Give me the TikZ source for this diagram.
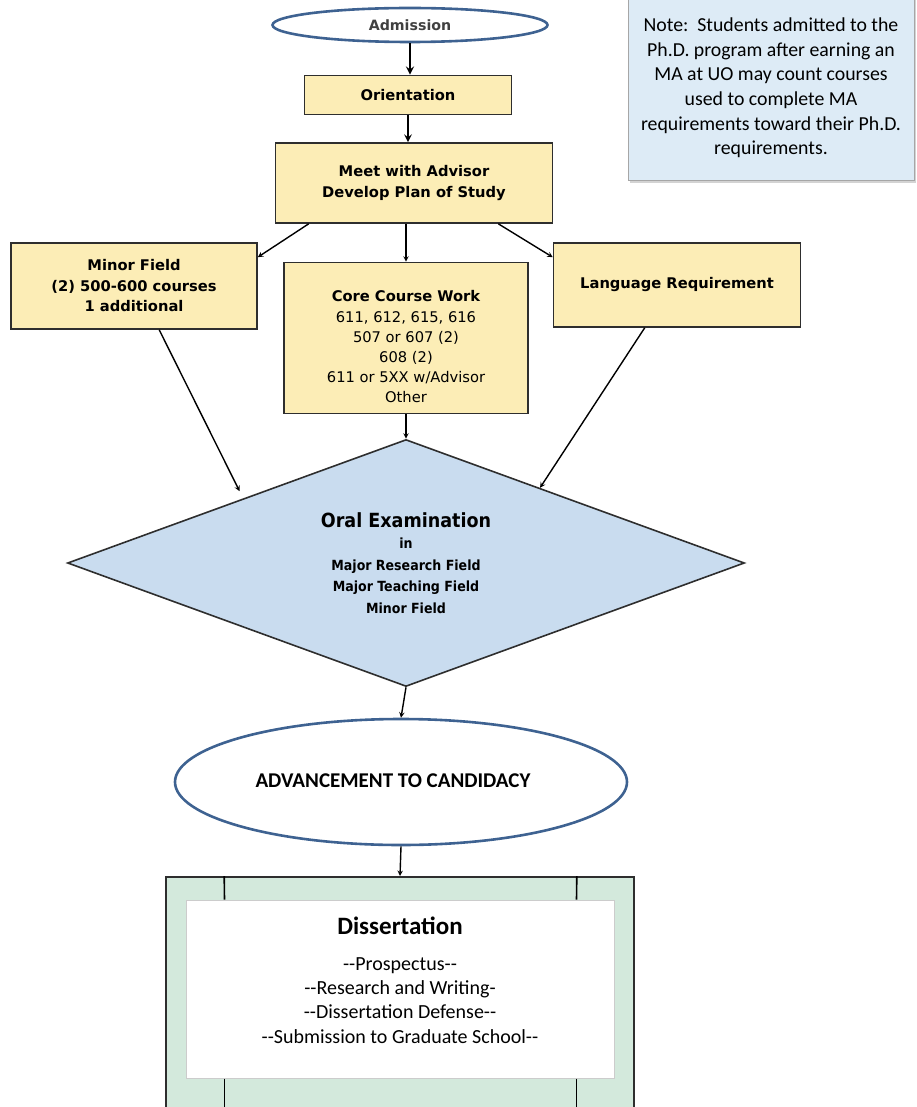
\documentclass[tikz,border=0pt]{standalone}
\usepackage{fontspec}
\setmainfont{DejaVu Sans}
\newfontfamily\narrowfont{DejaVu Sans Condensed}
\newfontfamily\calibrifont{Carlito}
\usepackage{tikz}
\usetikzlibrary{shapes.geometric,shadows,calc,positioning}

\definecolor{boxyellow}{HTML}{FCEDB6}
\definecolor{examblue}{HTML}{C9DCEF}
\definecolor{ovalblue}{HTML}{3E6291}
\definecolor{notefill}{HTML}{DDEBF6}
\definecolor{dissgreen}{HTML}{D3E9DC}
\definecolor{linegray}{HTML}{2E2E2E}

\begin{document}
\begin{tikzpicture}[x=1pt, y=-1pt, ->, >=stealth, line width=1.4pt]
		\tikzstyle{box}=[draw=linegray, fill=boxyellow, line width=1.6pt, align=center, inner sep=0pt, font=\fontsize{14.7}{20.5}\selectfont\bfseries]
		\tikzstyle{oval}=[ellipse, draw=ovalblue, line width=2.6pt, fill=white, inner sep=0pt]
		\useasboundingbox (0,0) rectangle (916,1107);
		
		\node [oval, minimum width=275pt, minimum height=34pt, text=black!75, font=\fontsize{14.2}{16}\selectfont\bfseries] (adm) at (410,25) {Admission};
		\node [box, minimum width=207pt, minimum height=39pt] (orient) at ($(adm)+(-2,70)$) {Orientation};
		\node [box, minimum width=277pt, minimum height=80pt] (meet) at ($(orient)+(6,88)$) {Meet with Advisor\\Develop Plan of Study};
		
		\node [box, minimum width=246pt, minimum height=86pt] (minor) at (134,286) {Minor Field\\(2) 500-600 courses\\1 additional};
		\node [box, minimum width=244pt, minimum height=151pt] (core) at (406,338) {};
		\node [align=center, font=\fontsize{14.7}{20.2}\selectfont] (coretext) at (406,347) {\bfseries Core Course Work\\611, 612, 615, 616\\507 or 607 (2)\\608 (2)\\611 or 5XX w/Advisor\\Other};
		\node [box, minimum width=247pt, minimum height=84pt] (lang) at (677,285) {Language Requirement};
		
		\node [diamond, aspect=2.74, draw=linegray, fill=examblue, line width=1.6pt, inner sep=0pt, minimum width=677pt, minimum height=247pt, align=center, font=\narrowfont\bfseries\fontsize{14}{21.5}\selectfont] (exam) at (406,563) {{\fontsize{19.5}{21}\selectfont Oral Examination}\\in\\Major Research Field\\Major Teaching Field\\Minor Field};
		
		\node [oval, minimum width=452pt, minimum height=126pt] (adv) at (401,782) {};
		\node [font=\calibrifont\bfseries\fontsize{21}{24}\selectfont] (advtext) at (393,781) {ADVANCEMENT TO CANDIDACY};
		
		\node [draw=linegray, fill=dissgreen, line width=1.6pt, minimum width=468pt, minimum height=250pt, anchor=north] (diss) at (400,876) {};
		\node [draw=black!20, fill=white, line width=1pt, minimum width=428pt, minimum height=178pt] (dissbox) at (400,989) {};
		\node [align=center, font=\calibrifont\fontsize{20}{24.2}\selectfont] (disstext) at (400,980) {{\bfseries\fontsize{25}{24}\selectfont Dissertation}\\[12pt]--Prospectus--\\--Research and Writing-\\--Dissertation Defense--\\--Submission to Graduate School--};
		
		\node [draw=black!35, fill=notefill, line width=1pt, drop shadow={opacity=0.35, shadow xshift=2pt, shadow yshift=-3pt}, minimum width=286pt, minimum height=185pt, align=center, font=\calibrifont\fontsize{19.8}{24.6}\selectfont] (note) at (771,88) {Note:\ \ Students admitted to the\\Ph.D. program after earning an\\MA at UO may count courses\\used to complete MA\\requirements toward their Ph.D.\\requirements.};
		
		\draw [-, line width=1.6pt] ($(diss.north west)+(59,0)$) -- ($(dissbox.north west)+(39,0)$);
		\draw [-, line width=1.6pt] ($(diss.north east)+(-58,0)$) -- ($(dissbox.north east)+(-38,0)$);
		\draw [-, line width=1.6pt] ($(dissbox.south west)+(39,0)$) -- ($(dissbox.south west)+(39,40)$);
		\draw [-, line width=1.6pt] ($(dissbox.south east)+(-38,0)$) -- ($(dissbox.south east)+(-38,40)$);
		
		\draw [->, line width=2.6pt] (adm.south) -- (adm.south |- orient.north); \draw [->, line width=2.4pt] (orient.south) -- (orient.south |- meet.north);
		\draw [->] ($(meet.south west)+(34,0)$) -- ($(minor.north east)+(0,15)$); \draw [->] (core.north |- meet.south) -- (core.north);
		\draw [->] ($(meet.south east)+(-55,0)$) -- ($(lang.north west)+(0,15)$);
		\draw [->, shorten >=8pt] ($(minor.south west)+(149,0)$) -- ($(exam.north)!0.48!(exam.west)$); \draw [->] (core.south) -- (exam.north);
		\draw [->] ($(lang.south west)+(92,0)$) -- ($(exam.north)!0.395!(exam.east)$);
		\draw [->] (exam.south) -- (adv.north); \draw [->] (adv.south) -- (diss.north);
	\end{tikzpicture}
\end{document}
